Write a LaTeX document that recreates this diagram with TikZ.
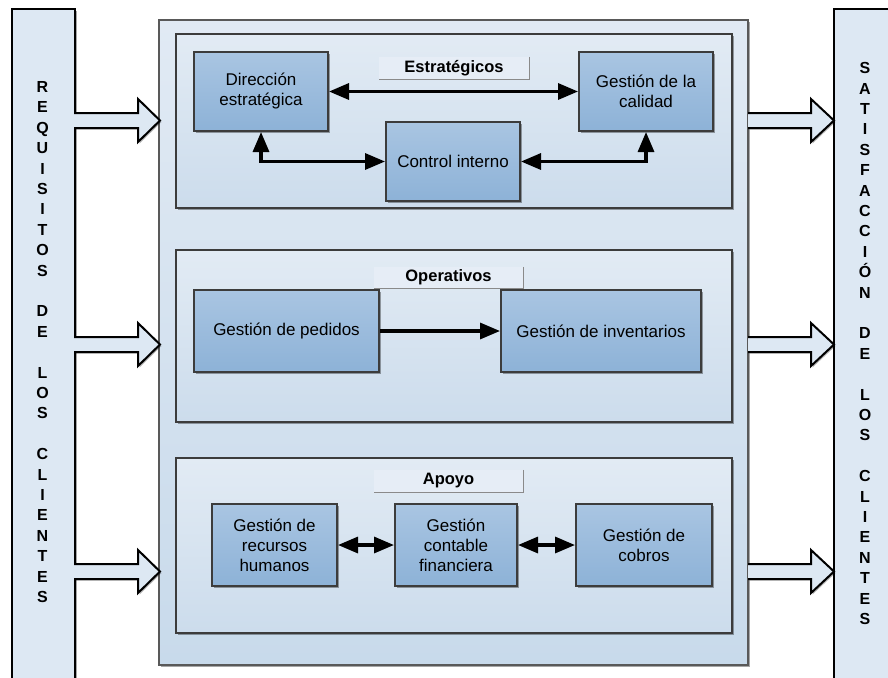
\documentclass[tikz,border=0pt]{standalone}
\usepackage{fontspec}
\setmainfont{Liberation Sans}
\usetikzlibrary{arrows.meta,shadows,calc}
\definecolor{colfill}{HTML}{DDE8F3}
\definecolor{mainTop}{HTML}{E1EAF4}
\definecolor{mainBot}{HTML}{C8DAEB}
\definecolor{panTop}{HTML}{E2EBF4}
\definecolor{panBot}{HTML}{CCDCEC}
\definecolor{procTop}{HTML}{A9C5E2}
\definecolor{procBot}{HTML}{8DB2D7}
\definecolor{boxdraw}{HTML}{3C3C3C}
\definecolor{labfill}{HTML}{E6EDF6}
\definecolor{labline}{HTML}{8A8A8A}
\tikzset{
  shad/.style={drop shadow={shadow xshift=2pt,shadow yshift=-2pt,opacity=0.35,fill=black}},
  column/.style={draw=black,line width=2pt,fill=colfill,inner sep=0,shad},
  mainbox/.style={draw=boxdraw!85,line width=2pt,top color=mainTop,bottom color=mainBot,inner sep=0,shad},
  panel/.style={draw=boxdraw,line width=2pt,top color=panTop,bottom color=panBot,inner sep=0,shad},
  procbox/.style={draw=boxdraw,line width=2pt,top color=procTop,bottom color=procBot,inner sep=0,
    align=center,font=\fontsize{17}{20}\selectfont,shad},
  lab/.style={fill=labfill,inner sep=0,font=\bfseries\fontsize{16.5}{20}\selectfont},
  labedge/.style={draw=labline,line width=0.9pt},
  coltext/.style={inner sep=0,align=center,font=\bfseries\fontsize{16}{20.4}\selectfont},
  conn/.style={line width=3.2pt,draw=black,>={Triangle[length=20pt,width=16pt]}},
  blockarr/.style={draw=black,line width=2pt,fill=colfill,line join=miter,
    drop shadow={shadow xshift=1.5pt,shadow yshift=-1.5pt,opacity=0.3,fill=black}}
}
\newcommand\blockarrow[4]{%
  \draw[blockarr] (#1,{#4-7.5}) -- (#2,{#4-7.5}) -- (#2,{#4-21.5}) -- (#3,#4)
    -- (#2,{#4+21.5}) -- (#2,{#4+7.5}) -- (#1,{#4+7.5});}
\begin{document}
\begin{tikzpicture}[x=1pt,y=-1pt]
\useasboundingbox (0,0) rectangle (888,677);
\clip (0,0) rectangle (888,677);
\fill[white] (0,0) rectangle (888,677);

% side columns
\node[column,minimum width=63,minimum height=690,anchor=north west] (colL) at (11,8) {};
\node[column,minimum width=64,minimum height=690,anchor=north west] (colR) at (833,8) {};
\node[coltext] (txtL) at (42.5,342) {R\\E\\Q\\U\\I\\S\\I\\T\\O\\S\\\mbox{}\\D\\E\\\mbox{}\\L\\O\\S\\\mbox{}\\C\\L\\I\\E\\N\\T\\E\\S};
\node[coltext] (txtR) at (865,343.5) {S\\A\\T\\I\\S\\F\\A\\C\\C\\I\\Ó\\N\\\mbox{}\\D\\E\\\mbox{}\\L\\O\\S\\\mbox{}\\C\\L\\I\\E\\N\\T\\E\\S};

% main box
\node[mainbox,minimum width=589,minimum height=645] (main) at (453.5,342.5) {};

% panels
\node[panel,minimum width=556,minimum height=174] (pE) at (454,121) {};
\node[panel,minimum width=556,minimum height=172] (pO) at (454,336) {};
\node[panel,minimum width=556,minimum height=175] (pA) at (454,545) {};

% labels
\node[lab,minimum width=150,minimum height=22] (labE) at (454,68) {Estratégicos};
\draw[labedge] (labE.north east) -- (labE.south east) -- (labE.south west);
\node[lab,minimum width=149,minimum height=21] (labO) at (448.5,277.5) {Operativos};
\draw[labedge] (labO.north east) -- (labO.south east) -- (labO.south west);
\node[lab,minimum width=149,minimum height=22] (labA) at (448.5,481) {Apoyo};
\draw[labedge] (labA.north east) -- (labA.south east) -- (labA.south west);

% process boxes
\node[procbox,minimum width=134,minimum height=79] (dir) at (261,91.5) {Dirección\\estratégica};
\node[procbox,minimum width=134,minimum height=79] (cal) at (646,91.5) {Gestión de la\\calidad};
\node[procbox,minimum width=134,minimum height=79] (ctrl) at (453,161.5) {Control interno};
\node[procbox,minimum width=185,minimum height=82] (ped) at (286.5,331) {Gestión de pedidos};
\node[procbox,minimum width=200,minimum height=82] (inv) at (601,331) {Gestión de inventarios};
\node[procbox,minimum width=125,minimum height=82] (rrhh) at (274.5,545) {Gestión de\\recursos\\humanos};
\node[procbox,minimum width=122,minimum height=82] (cont) at (456,545) {Gestión\\contable\\financiera};
\node[procbox,minimum width=136,minimum height=82] (cob) at (644,545) {Gestión de\\cobros};

% connectors
\draw[conn,<->] (dir.east) -- (cal.west);
\draw[conn,<->] (dir.south) |- (ctrl.west);
\draw[conn,<->] (cal.south) |- (ctrl.east);
\draw[conn,->] (ped.east) -- (inv.west);
\draw[conn,<->] (rrhh.east) -- (cont.west);
\draw[conn,<->] (cont.east) -- (cob.west);

% block arrows
\blockarrow{74}{138}{160}{120.5}
\blockarrow{74}{138}{160}{344.5}
\blockarrow{74}{138}{160}{571.5}
\blockarrow{748}{811}{834}{120.5}
\blockarrow{748}{811}{834}{344.5}
\blockarrow{748}{811}{834}{571.5}
\end{tikzpicture}
\end{document}
